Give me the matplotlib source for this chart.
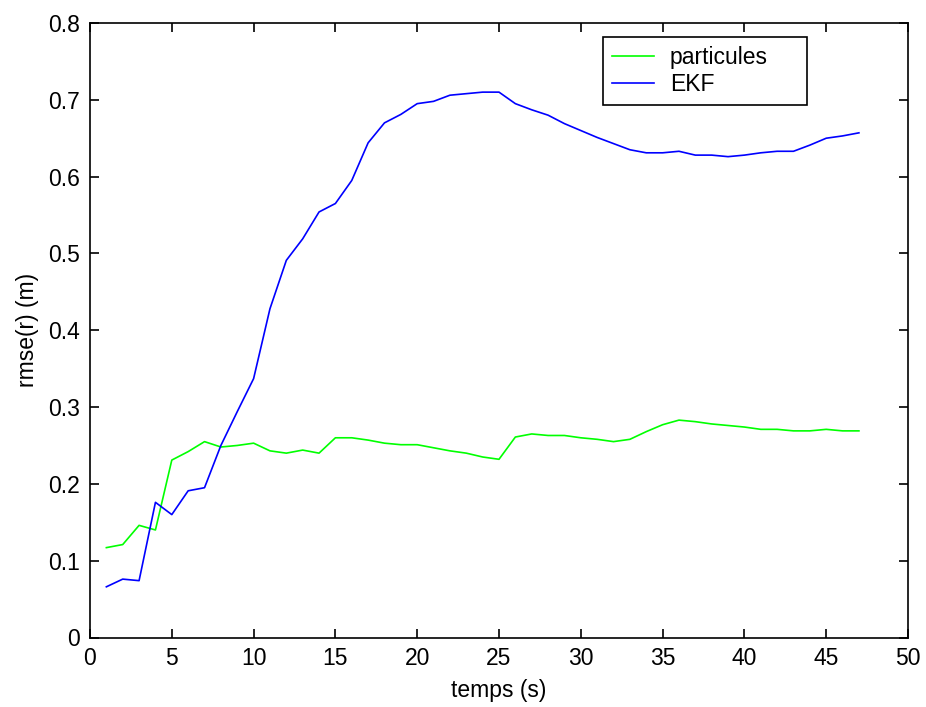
import numpy as np
import matplotlib
matplotlib.use("Agg")
import matplotlib.pyplot as plt

plt.rcParams['font.family'] = ['Liberation Sans', 'DejaVu Sans']

# temps (s)
t = np.arange(1, 48)

# rmse particules
particules = [0.117, 0.121, 0.146, 0.140, 0.231, 0.242, 0.255, 0.248, 0.250, 0.253,
              0.243, 0.240, 0.244, 0.240, 0.260, 0.260, 0.257, 0.253, 0.251, 0.251,
              0.247, 0.243, 0.240, 0.235, 0.232, 0.261, 0.265, 0.263, 0.263, 0.260,
              0.258, 0.255, 0.258, 0.268, 0.277, 0.283, 0.281, 0.278, 0.276, 0.274,
              0.271, 0.271, 0.269, 0.269, 0.271, 0.269, 0.269]

# rmse EKF
ekf = [0.066, 0.076, 0.074, 0.176, 0.160, 0.191, 0.195, 0.250, 0.294, 0.337,
       0.428, 0.491, 0.519, 0.554, 0.565, 0.595, 0.644, 0.670, 0.681, 0.695,
       0.698, 0.706, 0.708, 0.710, 0.710, 0.695, 0.687, 0.680, 0.669, 0.660,
       0.651, 0.643, 0.635, 0.631, 0.631, 0.633, 0.628, 0.628, 0.626, 0.628,
       0.631, 0.633, 0.633, 0.641, 0.650, 0.653, 0.657]

fs = 16.5

fig = plt.figure(figsize=(9.26, 7.07), dpi=100)
ax = fig.add_axes([90 / 926, 69.5 / 707, 818 / 926, 614.5 / 707])

ax.plot(t, particules, color=(0, 1, 0), lw=1.2, label="particules")
ax.plot(t, ekf, color=(0, 0, 1), lw=1.2, label="EKF")

ax.set_xlim(0, 50)
ax.set_ylim(0, 0.8)
ax.set_xticks(np.arange(0, 51, 5))
ax.set_yticks(np.arange(0, 0.81, 0.1))
ax.set_yticklabels(["0", "0.1", "0.2", "0.3", "0.4", "0.5", "0.6", "0.7", "0.8"])
ax.tick_params(direction="in", length=6.5, width=1.2, labelsize=fs,
               top=True, right=True, pad=7)
for s in ax.spines.values():
    s.set_linewidth(1.2)

ax.set_xlabel("temps (s)", fontsize=fs, labelpad=6)
ax.set_ylabel("rmse(r) (m)", fontsize=fs, labelpad=7)

leg = ax.legend(loc="upper left", bbox_to_anchor=(0.627, 0.877, 0.2494, 0.1),
                mode="expand", borderaxespad=0, fontsize=fs,
                fancybox=False, framealpha=1, edgecolor="black",
                handlelength=1.85, handletextpad=0.7,
                borderpad=0.38, labelspacing=0.2)
leg.get_frame().set_linewidth(1.2)

fig.savefig("out.png", dpi=100)
